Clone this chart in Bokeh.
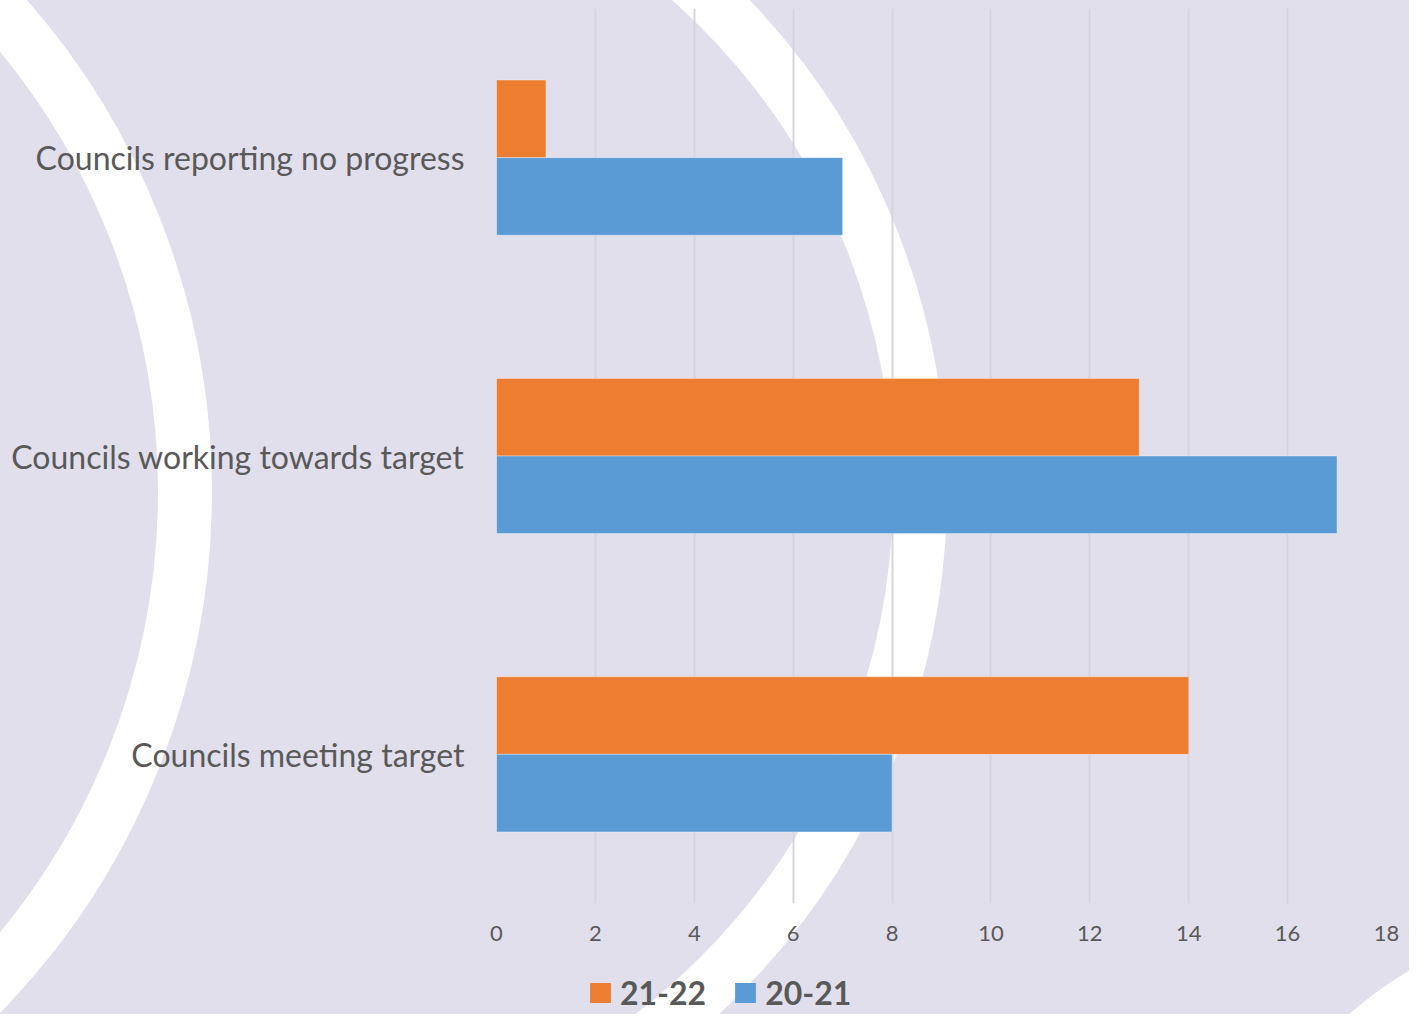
import base64
from bokeh.plotting import figure
from bokeh.layouts import column
from bokeh.models import FactorRange, Legend, LegendItem, FixedTicker, ColumnDataSource
from bokeh.transform import dodge
from bokeh.embed import file_html
from bokeh.resources import INLINE

# ---- data ----
categories = ["Councils meeting target", "Councils working towards target", "Councils reporting no progress"]
series_21_22 = [14, 13, 1]
series_20_21 = [8, 17, 7]
series_names = ["21-22", "20-21"]
x_ticks = [0, 2, 4, 6, 8, 10, 12, 14, 16, 18]

# ---- styling ----
BG = "#E2DFED"
ORANGE = "#ED7D31"
BLUE = "#5B9BD5"
TXT = "#595959"
W = 1409
H_MAIN = 953
H_LEG = 61
H = H_MAIN + H_LEG

src = ColumnDataSource(dict(cat=categories, a=series_21_22, b=series_20_21))

fig = figure(width=W, height=H_MAIN, y_range=FactorRange(*categories), x_range=(0, 18),
             output_backend="svg", toolbar_location=None,
             min_border_left=496, min_border_right=23, min_border_top=8, min_border_bottom=50)
fig.background_fill_alpha = 0
fig.border_fill_alpha = 0
fig.outline_line_color = None

r_a = fig.hbar(y=dodge("cat", 0.13, range=fig.y_range), right="a", left=0, height=0.26, source=src,
               fill_color=ORANGE, line_color="white", line_alpha=0.35, line_width=1)
r_b = fig.hbar(y=dodge("cat", -0.13, range=fig.y_range), right="b", left=0, height=0.26, source=src,
               fill_color=BLUE, line_color="white", line_alpha=0.35, line_width=1)

# grid
fig.ygrid.grid_line_color = None
fig.xgrid.grid_line_color = "#D6D4DC"
fig.xgrid.grid_line_width = 2
fig.xgrid.ticker = FixedTicker(ticks=x_ticks)

# x axis
fig.xaxis.ticker = FixedTicker(ticks=x_ticks)
fig.xaxis.axis_line_color = None
fig.xaxis.major_tick_line_color = None
fig.xaxis.minor_tick_line_color = None
fig.xaxis.major_tick_out = 0
fig.xaxis.major_label_standoff = 22
fig.xaxis.major_label_text_font = "Lato"
fig.xaxis.major_label_text_font_size = "22px"
fig.xaxis.major_label_text_color = TXT

# y axis
fig.yaxis.axis_line_color = None
fig.yaxis.major_tick_line_color = None
fig.yaxis.minor_tick_line_color = None
fig.yaxis.major_tick_out = 0
fig.yaxis.major_label_standoff = 32
fig.yaxis.major_label_text_font = "Lato"
fig.yaxis.major_label_text_font_size = "32px"
fig.yaxis.major_label_text_color = TXT

# ---- legend strip (separate figure below the chart) ----
leg_fig = figure(width=W, height=H_LEG, x_range=(0, 1), y_range=(0, 1),
                 output_backend="svg", toolbar_location=None,
                 min_border_left=496, min_border_right=23,
                 min_border_top=0, min_border_bottom=0)
leg_fig.axis.visible = False
leg_fig.grid.visible = False
leg_fig.background_fill_alpha = 0
leg_fig.border_fill_alpha = 0
leg_fig.outline_line_color = None
nan = float("nan")
proxy = ColumnDataSource(dict(x=[nan], y=[nan]))
d_a = leg_fig.rect(x="x", y="y", width=1, height=1, source=proxy, fill_color=ORANGE, line_color=None)
d_b = leg_fig.rect(x="x", y="y", width=1, height=1, source=proxy, fill_color=BLUE, line_color=None)

legend = Legend(items=[LegendItem(label=series_names[0], renderers=[d_a]),
                       LegendItem(label=series_names[1], renderers=[d_b])],
                orientation="horizontal", location=(91, 2),
                glyph_width=26, glyph_height=25, label_standoff=7, spacing=26,
                label_text_font="Lato", label_text_font_style="bold",
                label_text_font_size="32px", label_text_color=TXT,
                padding=0, margin=0, border_line_color=None, background_fill_alpha=0)
leg_fig.add_layout(legend, "center")

p = column(fig, leg_fig, spacing=0)

# decorative white rings behind the whole chart
svg = (f"<svg xmlns='http://www.w3.org/2000/svg' width='{W}' height='{H}' viewBox='0 0 {W} {H}'>"
       f"<rect width='{W}' height='{H}' fill='{BG}'/>"
       "<circle cx='-534' cy='492' r='719' fill='none' stroke='white' stroke-width='54'/>"
       "<circle cx='235' cy='492' r='685' fill='none' stroke='white' stroke-width='54'/>"
       "<circle cx='1610' cy='1312' r='396' fill='white'/>"
       "</svg>")
uri = "data:image/svg+xml;base64," + base64.b64encode(svg.encode()).decode()
p.styles = {"background-image": f"url('{uri}')", "background-size": f"{W}px {H}px",
            "background-repeat": "no-repeat", "background-color": BG}

open("out.html", "w").write(file_html(p, INLINE))
